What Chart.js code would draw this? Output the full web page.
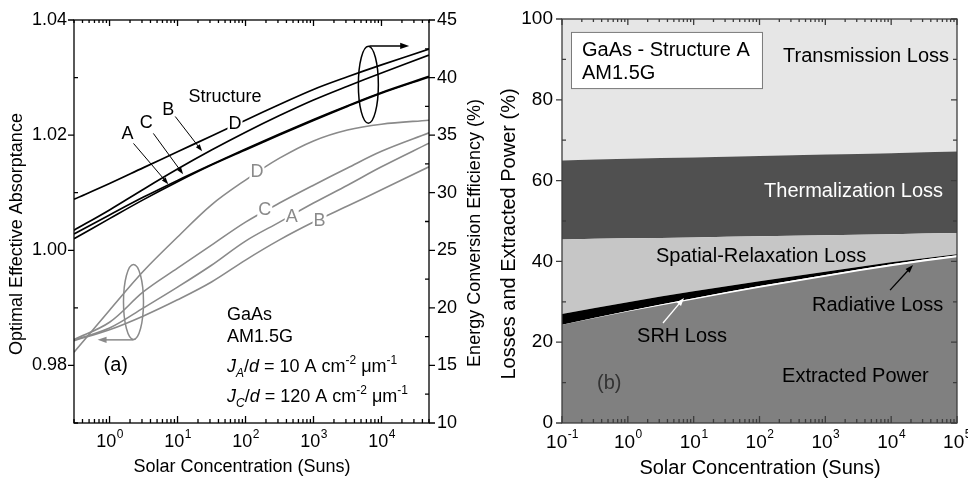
<!DOCTYPE html>
<html>
<head>
<meta charset="utf-8">
<script src="https://cdn.jsdelivr.net/npm/chart.js@4.4.1/dist/chart.umd.min.js"></script>
<style>
  html, body { margin: 0; padding: 0; background: #fff; }
  #wrap { position: relative; width: 968px; height: 478px; overflow: hidden; }
  #cA { position: absolute; left: 0; top: 0; }
  #cB { position: absolute; left: 492px; top: 0; }
</style>
</head>
<body>
<div id="wrap">
  <canvas id="cA" width="492" height="478"></canvas>
  <canvas id="cB" width="476" height="478"></canvas>
</div>
<script>
// (a) concentration grid (suns)
const concA = [0.3, 1, 3.16, 10, 31.6, 100, 316, 1000, 3162, 10000, 50000];
// energy conversion efficiency (%), right axis, black
const effD = [29.43, 30.80, 32.18, 33.55, 34.93, 36.30, 37.66, 38.97, 40.07, 41.10, 42.47];
const effB = [26.74, 28.50, 30.30, 32.05, 33.70, 35.25, 36.70, 38.05, 39.25, 40.40, 41.95];
const effC = [26.42, 28.07, 29.62, 31.07, 32.45, 33.80, 35.10, 36.35, 37.55, 38.70, 40.10];
const effA = [26.00, 27.75, 29.40, 30.95, 32.40, 33.72, 35.02, 36.28, 37.50, 38.65, 40.05];
// optimal effective absorptance, left axis, gray
const absD = [0.9823, 0.9896, 0.9964, 1.0023, 1.0079, 1.0122, 1.0160, 1.0190, 1.0209, 1.0219, 1.0226];
const absC = [0.9845, 0.9875, 0.9928, 0.9969, 1.0009, 1.0049, 1.0082, 1.0113, 1.0143, 1.0172, 1.0204];
const absA = [0.9844, 0.9865, 0.9900, 0.9936, 0.9974, 1.0016, 1.0049, 1.0082, 1.0113, 1.0145, 1.0186];
const absB = [0.9843, 0.9862, 0.9886, 0.9914, 0.9945, 0.9983, 1.0018, 1.0049, 1.0077, 1.0105, 1.0145];

// (b) concentration grid and stacked shares (%)
const concB = [0.1, 1, 10, 100, 1000, 10000, 100000];
const extracted = [24.3, 27.6, 30.6, 33.5, 36.2, 38.8, 41.0];
const radiative = [0.0, 0.1, 0.3, 0.4, 0.45, 0.5, 0.5];
const srh = [2.7, 2.2, 1.7, 1.2, 0.8, 0.5, 0.3];
const spatial = [18.4, 15.8, 13.3, 11.1, 9.0, 6.9, 5.2];
const thermal = [19.6, 19.7, 19.8, 19.9, 20.0, 20.1, 20.2];
const transmission = [35.0, 34.6, 34.3, 33.9, 33.55, 33.2, 32.8];

// tick values
const xMajorA = [1, 10, 100, 1000, 10000];
const yTicksA = [0.98, 1.00, 1.02, 1.04];
const yMinorA = [0.97, 0.99, 1.01, 1.03];
const y2TicksA = [10, 15, 20, 25, 30, 35, 40, 45];
const y2MinorA = [12.5, 17.5, 22.5, 27.5, 32.5, 37.5, 42.5];
const xMajorB = [0.1, 1, 10, 100, 1000, 10000, 100000];
const yTicksB = [0, 20, 40, 60, 80, 100];
const yMinorB = [10, 30, 50, 70, 90];

const FONT = "'Liberation Sans', Arial, Helvetica, sans-serif";
const GRAY = '#8a8a8a';
Chart.defaults.font.family = FONT;
Chart.defaults.color = '#000';

const fnt = (size, italic) => `${italic ? 'italic ' : ''}${size}px ${FONT}`;

function logMinor(min, max) {
  const out = [];
  for (let e = Math.floor(Math.log10(min)); e <= Math.ceil(Math.log10(max)); e++) {
    for (let m = 2; m <= 9; m++) {
      const v = m * Math.pow(10, e);
      if (v >= min * 0.999 && v <= max * 1.001) out.push(v);
    }
  }
  return out;
}

// fixes axis box size so the plot area sits where the figure has it
function fixSize(size) {
  return (scale) => {
    if (scale.isHorizontal()) scale.height = size; else scale.width = size;
    scale.paddingLeft = scale.paddingRight = scale.paddingTop = scale.paddingBottom = 0;
  };
}

function drawText(ctx, str, x, y, opt = {}) {
  const size = opt.size || 18;
  ctx.font = fnt(size, opt.italic);
  ctx.textAlign = opt.align || 'left';
  ctx.textBaseline = 'middle';
  if (opt.bg) {
    const w = ctx.measureText(str).width;
    const x0 = opt.align === 'center' ? x - w / 2 : opt.align === 'right' ? x - w : x;
    ctx.fillStyle = opt.bg;
    ctx.fillRect(x0 - 1, y - size * 0.45, w + 2, size * 0.9);
  }
  ctx.fillStyle = opt.color || '#000';
  ctx.fillText(str, x, y);
}

function drawRich(ctx, segs, x, y, size) {
  let cx = x;
  ctx.textAlign = 'left';
  ctx.textBaseline = 'middle';
  ctx.fillStyle = '#000';
  segs.forEach(([t, style]) => {
    const small = style.includes('sub') || style.includes('sup');
    ctx.font = fnt(small ? Math.round(size * 0.66) : size, style.startsWith('i'));
    const dy = style.includes('sub') ? size * 0.38 : style.includes('sup') ? -size * 0.36 : 0;
    ctx.fillText(t, cx, y + dy);
    cx += ctx.measureText(t).width;
  });
}

function arrow(ctx, x1, y1, x2, y2, color, head = 8, lw = 1.2) {
  const a = Math.atan2(y2 - y1, x2 - x1);
  const c = Math.cos(a), s = Math.sin(a);
  ctx.strokeStyle = color;
  ctx.fillStyle = color;
  ctx.lineWidth = lw;
  ctx.beginPath();
  ctx.moveTo(x1, y1);
  ctx.lineTo(x2 - c * head * 0.8, y2 - s * head * 0.8);
  ctx.stroke();
  ctx.beginPath();
  ctx.moveTo(x2, y2);
  ctx.lineTo(x2 - head * c + head * 0.35 * s, y2 - head * s - head * 0.35 * c);
  ctx.lineTo(x2 - head * c - head * 0.35 * s, y2 - head * s + head * 0.35 * c);
  ctx.closePath();
  ctx.fill();
}

function vTitle(ctx, text, x, y, size) {
  ctx.save();
  ctx.translate(x, y);
  ctx.rotate(-Math.PI / 2);
  drawText(ctx, text, 0, 0, { size, align: 'center' });
  ctx.restore();
}

// frame, inward/outward tick marks, 10^n labels and axis titles
const framePlugin = {
  id: 'frame',
  afterDatasetsDraw(chart, args, o) {
    const { ctx, chartArea: a, scales } = chart;
    const sx = scales.x, sl = scales.y, sr = scales[o.rightScale];
    ctx.save();
    ctx.strokeStyle = o.color;
    ctx.lineWidth = 1.3;
    ctx.beginPath();
    const mark = (x1, y1, x2, y2) => { ctx.moveTo(x1, y1); ctx.lineTo(x2, y2); };
    o.xMajor.forEach(v => { const p = sx.getPixelForValue(v); mark(p, a.bottom, p, a.bottom - 7); mark(p, a.top, p, a.top + 6); });
    o.xMinor.forEach(v => { const p = sx.getPixelForValue(v); mark(p, a.bottom, p, a.bottom - 4); mark(p, a.top, p, a.top + 3); });
    o.yMajor.forEach(v => { const p = sl.getPixelForValue(v); mark(a.left, p, a.left - 6, p); });
    o.yMinor.forEach(v => { const p = sl.getPixelForValue(v); mark(a.left, p, a.left + 4, p); });
    o.rMajor.forEach(v => { const p = sr.getPixelForValue(v); mark(a.right, p, a.right + (o.rightOut ? 6 : -6), p); });
    o.rMinor.forEach(v => { const p = sr.getPixelForValue(v); mark(a.right, p, a.right - 4, p); });
    ctx.stroke();
    ctx.strokeRect(a.left, a.top, a.right - a.left, a.bottom - a.top);

    // 10^n labels
    ctx.fillStyle = '#000';
    ctx.textBaseline = 'middle';
    ctx.textAlign = 'left';
    const fs = o.labelSize, es = Math.round(o.labelSize * 0.64);
    o.xMajor.forEach(v => {
      const e = String(Math.round(Math.log10(v)));
      const p = sx.getPixelForValue(v);
      ctx.font = fnt(fs); const w1 = ctx.measureText('10').width;
      ctx.font = fnt(es); const w2 = ctx.measureText(e).width;
      const x0 = p - (w1 + w2) / 2;
      const y0 = a.bottom + o.labelDy;
      ctx.font = fnt(fs); ctx.fillText('10', x0, y0);
      ctx.font = fnt(es); ctx.fillText(e, x0 + w1 + 0.5, y0 - fs * 0.42);
    });

    // axis titles
    drawText(ctx, o.xTitle.text, o.xTitle.x, o.xTitle.y, { size: o.xTitle.size, align: 'center' });
    o.yTitles.forEach(t => vTitle(ctx, t.text, t.x, t.y, t.size));
    ctx.restore();
  }
};

const annotA = {
  id: 'annotA',
  afterDatasetsDraw(chart) {
    const { ctx, scales: { x, y, y2 } } = chart;
    const X = v => x.getPixelForValue(v);
    const L = v => y.getPixelForValue(v);
    const R = v => y2.getPixelForValue(v);
    ctx.save();
    // black set (efficiency)
    drawText(ctx, 'Structure', X(49.9), R(38.35), { align: 'center' });
    drawText(ctx, 'D', X(70), R(35.95), { align: 'center', bg: '#fff' });
    drawText(ctx, 'A', X(1.83), R(35.06), { align: 'center' });
    drawText(ctx, 'C', X(3.48), R(36.01), { align: 'center' });
    drawText(ctx, 'B', X(7.31), R(37.22), { align: 'center' });
    arrow(ctx, X(2.25), R(34.28), X(7.31), R(30.74), '#000', 7, 1);
    arrow(ctx, X(4.41), R(35.15), X(12.1), R(31.6), '#000', 7, 1);
    arrow(ctx, X(9.25), R(36.62), X(23.0), R(33.6), '#000', 7, 1);
    // black ellipse + arrow to the right axis
    ctx.strokeStyle = '#000';
    ctx.lineWidth = 1.5;
    ctx.beginPath();
    ctx.ellipse(X(6412), R(39.38), 10, 38.5, 0, 0, Math.PI * 2);
    ctx.stroke();
    arrow(ctx, X(6622), R(42.75), X(25540), R(42.75), '#000', 9, 1.5);

    // gray set (absorptance)
    drawText(ctx, 'D', X(147), L(1.0136), { align: 'center', bg: '#fff', color: GRAY });
    drawText(ctx, 'C', X(192), L(1.0070), { align: 'center', bg: '#fff', color: GRAY });
    drawText(ctx, 'A', X(478), L(1.0058), { align: 'center', bg: '#fff', color: GRAY });
    drawText(ctx, 'B', X(1228), L(1.0050), { align: 'center', bg: '#fff', color: GRAY });
    ctx.strokeStyle = GRAY;
    ctx.lineWidth = 1.5;
    ctx.beginPath();
    ctx.ellipse(X(2.25), L(0.99102), 10, 37.5, 0, 0, Math.PI * 2);
    ctx.stroke();
    arrow(ctx, X(2.25), L(0.98444), X(0.667), L(0.98444), GRAY, 9, 1.5);

    // conditions
    drawText(ctx, 'GaAs', X(53.4), L(0.98876));
    drawText(ctx, 'AM1.5G', X(53.4), L(0.98494));
    drawRich(ctx, [['J', 'i'], ['A', 'isub'], ['/', ''], ['d', 'i'], [' = 10 A cm', ''], ['-2', 'sup'], [' \u03BCm', ''], ['-1', 'sup']], X(53.4), L(0.97973), 18);
    drawRich(ctx, [['J', 'i'], ['C', 'isub'], ['/', ''], ['d', 'i'], [' = 120 A cm', ''], ['-2', 'sup'], [' \u03BCm', ''], ['-1', 'sup']], X(53.4), L(0.97451), 18);
    drawText(ctx, '(a)', X(0.817), L(0.98007), { size: 20 });
    ctx.restore();
  }
};

const annotB = {
  id: 'annotB',
  afterDatasetsDraw(chart) {
    const { ctx, scales: { x, y } } = chart;
    const X = v => x.getPixelForValue(v);
    const Y = v => y.getPixelForValue(v);
    ctx.save();
    const bx = X(0.137), by = Y(96.8);
    ctx.fillStyle = '#fff';
    ctx.fillRect(bx, by, X(109) - bx, Y(82.9) - by);
    ctx.strokeStyle = '#7a7a7a';
    ctx.lineWidth = 1;
    ctx.strokeRect(bx + 0.5, by + 0.5, X(109) - bx, Y(82.9) - by);
    drawText(ctx, 'GaAs - Structure A', X(0.201), Y(92.3), { size: 20 });
    drawText(ctx, 'AM1.5G', X(0.201), Y(86.4), { size: 20 });
    drawText(ctx, 'Transmission Loss', X(75700), Y(90.6), { size: 20, align: 'right' });
    drawText(ctx, 'Thermalization Loss', X(61400), Y(57.2), { size: 20, align: 'right', color: '#fff' });
    drawText(ctx, 'Spatial-Relaxation Loss', X(2.68), Y(41.1), { size: 20 });
    drawText(ctx, 'Radiative Loss', X(628), Y(29.0), { size: 20 });
    arrow(ctx, X(9620), Y(32.9), X(21480), Y(39.1), '#000', 8, 1.3);
    drawText(ctx, 'SRH Loss', X(1.38), Y(21.3), { size: 20 });
    arrow(ctx, X(3.42), Y(24.75), X(7.13), Y(30.94), '#fff', 8, 1.3);
    drawText(ctx, 'Extracted Power', X(220), Y(11.4), { size: 20 });
    drawText(ctx, '(b)', X(0.34), Y(9.9), { size: 20, color: '#333' });
    ctx.restore();
  }
};

function curve(ys, color, axis, width) {
  return {
    data: concA.map((x, i) => ({ x, y: ys[i] })),
    yAxisID: axis,
    borderColor: color,
    borderWidth: width,
    pointRadius: 0,
    fill: false,
    tension: 0.35
  };
}

function band(ys, color, fill) {
  return {
    data: concB.map((x, i) => ({ x, y: ys[i] })),
    backgroundColor: color,
    borderColor: 'rgba(0,0,0,0)',
    borderWidth: 1,
    pointRadius: 0,
    fill,
    cubicInterpolationMode: 'monotone'
  };
}

const common = {
  responsive: false,
  animation: false,
  devicePixelRatio: 1,
  events: []
};

new Chart(document.getElementById('cA'), {
  type: 'line',
  data: {
    datasets: [
      curve(effD, '#000', 'y2', 1.7),
      curve(effB, '#000', 'y2', 1.7),
      curve(effC, '#000', 'y2', 1.7),
      curve(effA, '#000', 'y2', 1.7),
      curve(absD, GRAY, 'y', 1.6),
      curve(absC, GRAY, 'y', 1.6),
      curve(absA, GRAY, 'y', 1.6),
      curve(absB, GRAY, 'y', 1.6)
    ]
  },
  options: {
    ...common,
    layout: { padding: { top: 20, left: 0, right: 0, bottom: 0 } },
    plugins: {
      legend: { display: false },
      tooltip: { enabled: false },
      frame: {
        color: '#000',
        rightScale: 'y2',
        rightOut: true,
        xMajor: xMajorA,
        xMinor: logMinor(0.3, 5e4),
        yMajor: yTicksA,
        yMinor: yMinorA,
        rMajor: y2TicksA,
        rMinor: y2MinorA,
        labelSize: 18,
        labelDy: 19,
        xTitle: { text: 'Solar Concentration (Suns)', x: 242, y: 467, size: 18 },
        yTitles: [
          { text: 'Optimal Effective Absorptance', x: 17, y: 234, size: 18 },
          { text: 'Energy Conversion Efficiency (%)', x: 475, y: 233, size: 18 }
        ]
      }
    },
    scales: {
      x: {
        type: 'logarithmic', min: 0.3, max: 5e4, position: 'bottom',
        grid: { display: false, drawTicks: false }, border: { display: false },
        ticks: { display: false },
        afterFit: fixSize(55)
      },
      y: {
        type: 'linear', min: 0.97, max: 1.04, position: 'left',
        grid: { display: false, drawTicks: false }, border: { display: false },
        afterBuildTicks: (s) => { s.ticks = yTicksA.map(value => ({ value })); },
        ticks: { callback: (v) => Number(v).toFixed(2), font: { size: 18 }, padding: 7 },
        afterFit: fixSize(74)
      },
      y2: {
        type: 'linear', min: 10, max: 45, position: 'right',
        grid: { display: false, drawTicks: false }, border: { display: false },
        afterBuildTicks: (s) => { s.ticks = y2TicksA.map(value => ({ value })); },
        ticks: { callback: (v) => String(v), font: { size: 18 }, padding: 8 },
        afterFit: fixSize(63)
      }
    }
  },
  plugins: [framePlugin, annotA]
});

new Chart(document.getElementById('cB'), {
  type: 'line',
  data: {
    datasets: [
      band(extracted, '#808080', 'origin'),
      band(radiative, '#ffffff', '-1'),
      band(srh, '#000000', '-1'),
      band(spatial, '#c6c6c6', '-1'),
      band(thermal, '#505050', '-1'),
      band(transmission, '#e6e6e6', '-1')
    ]
  },
  options: {
    ...common,
    layout: { padding: { top: 19, left: 0, right: 11, bottom: 0 } },
    plugins: {
      legend: { display: false },
      tooltip: { enabled: false },
      filler: { propagate: false },
      frame: {
        color: '#3c3c3c',
        rightScale: 'y',
        rightOut: false,
        xMajor: xMajorB,
        xMinor: logMinor(0.1, 1e5),
        yMajor: yTicksB,
        yMinor: yMinorB,
        rMajor: yTicksB,
        rMinor: yMinorB,
        labelSize: 19,
        labelDy: 20,
        xTitle: { text: 'Solar Concentration (Suns)', x: 268, y: 468, size: 20 },
        yTitles: [
          { text: 'Losses and Extracted Power (%)', x: 17, y: 234, size: 20 }
        ]
      }
    },
    scales: {
      x: {
        type: 'logarithmic', min: 0.1, max: 1e5, position: 'bottom',
        grid: { display: false, drawTicks: false }, border: { display: false },
        ticks: { display: false },
        afterFit: fixSize(55)
      },
      y: {
        type: 'linear', min: 0, max: 100, position: 'left', stacked: true,
        grid: { display: false, drawTicks: false }, border: { display: false },
        afterBuildTicks: (s) => { s.ticks = yTicksB.map(value => ({ value })); },
        ticks: { callback: (v) => String(v), font: { size: 19 }, padding: 9 },
        afterFit: fixSize(70)
      }
    }
  },
  plugins: [framePlugin, annotB]
});
</script>
</body>
</html>
